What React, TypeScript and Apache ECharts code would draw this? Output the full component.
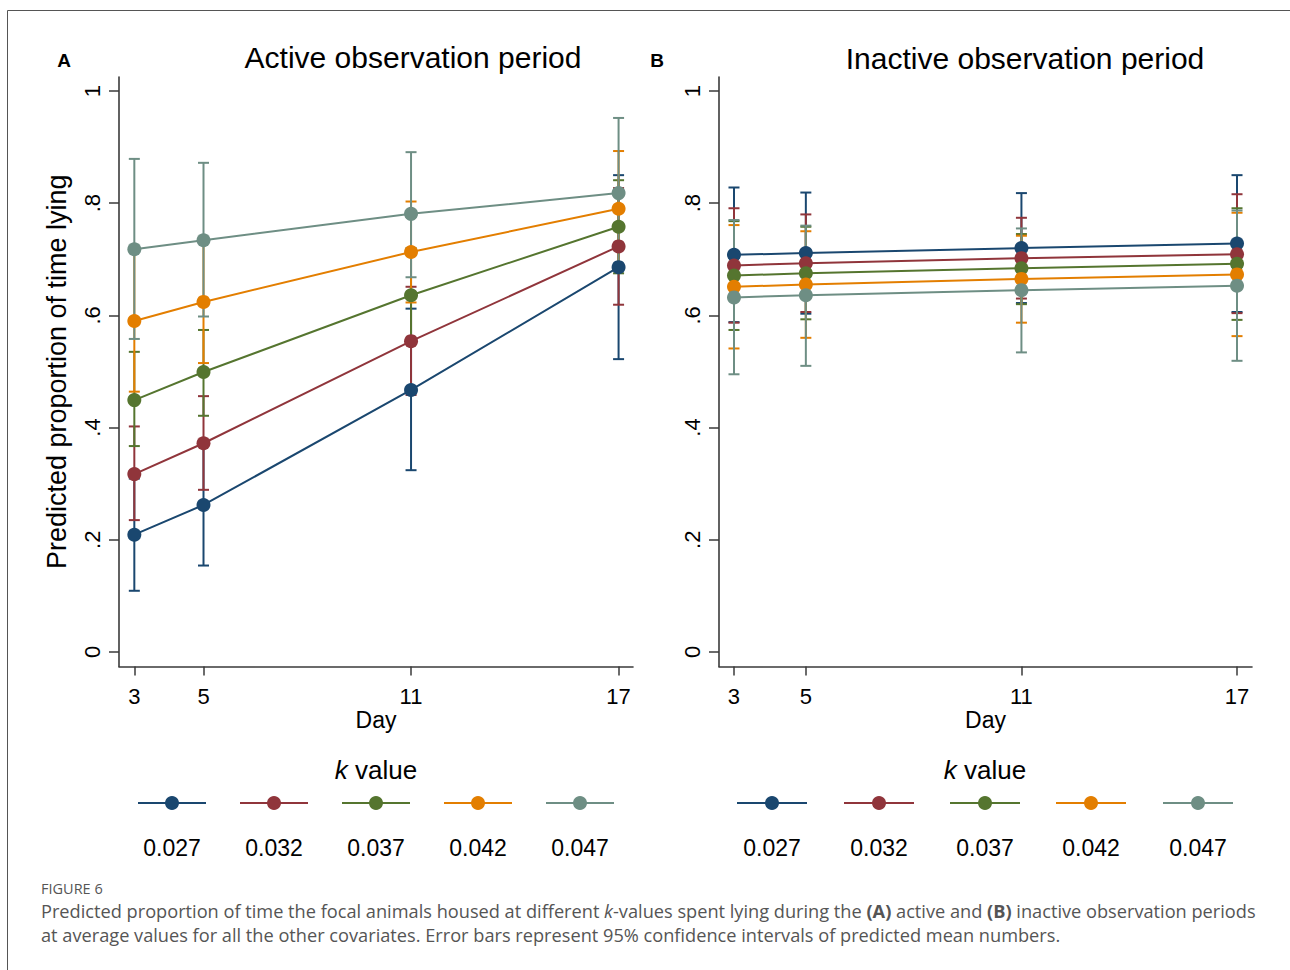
import React, { useEffect, useRef } from "react";
import * as echarts from "echarts";

const days = [3, 5, 11, 17];
const yTicks = [0, 0.2, 0.4, 0.6, 0.8, 1];
const kLabels = ["0.027", "0.032", "0.037", "0.042", "0.047"];
const colors = ["#1a476f", "#90353b", "#55752f", "#e37e00", "#6e8e84"];

// Panel A: active observation period
const activeMean = [
  [0.209, 0.262, 0.467, 0.686],
  [0.317, 0.372, 0.554, 0.723],
  [0.449, 0.499, 0.636, 0.758],
  [0.59, 0.624, 0.713, 0.79],
  [0.718, 0.734, 0.781, 0.818],
];
const activeLow = [
  [0.109, 0.154, 0.324, 0.522],
  [0.235, 0.289, 0.458, 0.619],
  [0.367, 0.421, 0.552, 0.675],
  [0.464, 0.515, 0.623, 0.687],
  [0.558, 0.598, 0.668, 0.684],
];
const activeHigh = [
  [0.309, 0.37, 0.612, 0.85],
  [0.402, 0.456, 0.651, 0.827],
  [0.535, 0.574, 0.72, 0.841],
  [0.716, 0.733, 0.803, 0.893],
  [0.879, 0.872, 0.891, 0.952],
];

// Panel B: inactive observation period
const inactiveMean = [
  [0.708, 0.711, 0.72, 0.728],
  [0.689, 0.693, 0.702, 0.709],
  [0.671, 0.675, 0.684, 0.692],
  [0.651, 0.655, 0.665, 0.673],
  [0.632, 0.636, 0.645, 0.653],
];
const inactiveLow = [
  [0.588, 0.603, 0.622, 0.606],
  [0.587, 0.606, 0.63, 0.604],
  [0.574, 0.593, 0.62, 0.592],
  [0.541, 0.56, 0.587, 0.563],
  [0.495, 0.51, 0.534, 0.519],
];
const inactiveHigh = [
  [0.828, 0.819, 0.818, 0.85],
  [0.791, 0.78, 0.774, 0.816],
  [0.768, 0.758, 0.745, 0.791],
  [0.761, 0.75, 0.742, 0.783],
  [0.77, 0.76, 0.755, 0.787],
];

const FONT = "'Liberation Sans', Arial, sans-serif";
const AXIS_COLOR = "#3a3a3a";

function makeX(gi: number, min: number, max: number) {
  return {
    type: "value",
    gridIndex: gi,
    min,
    max,
    axisLine: { show: true, onZero: false, lineStyle: { color: AXIS_COLOR, width: 1.6 } },
    axisTick: { show: true, length: 9, customValues: days, lineStyle: { color: AXIS_COLOR, width: 1.5 } },
    axisLabel: { customValues: days, fontSize: 22, color: "#000", margin: 19, fontFamily: FONT },
    splitLine: { show: false },
    name: "Day",
    nameLocation: "middle",
    nameGap: 42,
    nameMoveOverlap: false,
    nameTextStyle: { fontSize: 23, color: "#000", fontFamily: FONT },
  };
}

function makeY(gi: number, withName: boolean) {
  return {
    type: "value",
    gridIndex: gi,
    min: -0.026,
    max: 1.025,
    axisLine: { show: true, onZero: false, lineStyle: { color: AXIS_COLOR, width: 1.6 } },
    axisTick: { show: true, length: 10, customValues: yTicks, lineStyle: { color: AXIS_COLOR, width: 1.5 } },
    axisLabel: {
      customValues: yTicks,
      rotate: 90,
      fontSize: 22,
      color: "#000",
      margin: 16,
      fontFamily: FONT,
      formatter: (v: number) => (v === 0 ? "0" : v === 1 ? "1" : String(v).replace(/^0\./, ".")),
    },
    splitLine: { show: false },
    name: withName ? "Predicted proportion of time lying" : "",
    nameLocation: "middle",
    nameRotate: 90,
    nameGap: 49,
    nameMoveOverlap: false,
    nameTextStyle: { fontSize: 27, color: "#000", fontFamily: FONT },
  };
}

function makeSeries(gi: number, mean: number[][], low: number[][], high: number[][]) {
  const out: any[] = [];
  mean.forEach((_, k) => {
    const color = colors[k];
    out.push({
      type: "custom",
      xAxisIndex: gi,
      yAxisIndex: gi,
      z: 2,
      encode: { x: 0, y: [1, 2] },
      data: days.map((d, i) => [d, low[k][i], high[k][i]]),
      renderItem: (params: any, api: any) => {
        const x = api.value(0);
        const pLo = api.coord([x, api.value(1)]);
        const pHi = api.coord([x, api.value(2)]);
        const w = 5.5;
        const style = { stroke: color, lineWidth: 2 };
        return {
          type: "group",
          children: [
            { type: "line", shape: { x1: pLo[0], y1: pLo[1], x2: pHi[0], y2: pHi[1] }, style },
            { type: "line", shape: { x1: pLo[0] - w, y1: pLo[1], x2: pLo[0] + w, y2: pLo[1] }, style },
            { type: "line", shape: { x1: pHi[0] - w, y1: pHi[1], x2: pHi[0] + w, y2: pHi[1] }, style },
          ],
        };
      },
    });
  });
  mean.forEach((m, k) => {
    out.push({
      type: "line",
      name: kLabels[k],
      xAxisIndex: gi,
      yAxisIndex: gi,
      z: 3,
      data: days.map((d, i) => [d, m[i]]),
      symbol: "circle",
      symbolSize: 14,
      showSymbol: true,
      itemStyle: { color: colors[k] },
      lineStyle: { color: colors[k], width: 2 },
    });
  });
  return out;
}

function legendGraphics(centers: number[], half: number, titleX: number) {
  const els: any[] = [];
  els.push({
    type: "text",
    x: titleX,
    y: 770,
    style: {
      text: "{i|k} value",
      rich: { i: { fontStyle: "italic", fontSize: 26, fontFamily: FONT, fill: "#000" } },
      fontSize: 26,
      fontFamily: FONT,
      fill: "#000",
      align: "center",
      verticalAlign: "middle",
    },
  });
  centers.forEach((cx, k) => {
    els.push({
      type: "line",
      shape: { x1: cx - half, y1: 803, x2: cx + half, y2: 803 },
      style: { stroke: colors[k], lineWidth: 2 },
    });
    els.push({
      type: "circle",
      shape: { cx, cy: 803, r: 7 },
      style: { fill: colors[k] },
    });
    els.push({
      type: "text",
      x: cx,
      y: 848,
      style: {
        text: kLabels[k],
        fontSize: 23,
        fontFamily: FONT,
        fill: "#000",
        align: "center",
        verticalAlign: "middle",
      },
    });
  });
  return els;
}

export default function App() {
  const ref = useRef<HTMLDivElement>(null);
  useEffect(() => {
    document.body.style.margin = "0";
    document.body.style.overflow = "hidden";
    if (!ref.current) return;
    const chart = echarts.init(ref.current, undefined, { renderer: "svg" });
    const capFont = "'Open Sans', 'Noto Sans', sans-serif";
    const option: any = {
      animation: false,
      backgroundColor: "#ffffff",
      grid: [
        { left: 119, top: 77, width: 514, height: 589.5, containLabel: false },
        { left: 719, top: 77, width: 533, height: 589.5, containLabel: false },
      ],
      xAxis: [makeX(0, 2.557, 17.417), makeX(1, 2.583, 17.417)],
      yAxis: [makeY(0, true), makeY(1, false)],
      series: [
        ...makeSeries(0, activeMean, activeLow, activeHigh),
        ...makeSeries(1, inactiveMean, inactiveLow, inactiveHigh),
      ],
      graphic: [
        {
          type: "polyline",
          shape: { points: [[7.5, 975], [7.5, 10.5], [1295, 10.5]] },
          style: { stroke: "#555", lineWidth: 1, fill: "none" },
          silent: true,
        },
        {
          type: "text",
          x: 64,
          y: 60,
          style: { text: "A", fontSize: 19, fontWeight: "bold", fontFamily: FONT, fill: "#000", align: "center", verticalAlign: "middle" },
        },
        {
          type: "text",
          x: 413,
          y: 57,
          style: { text: "Active observation period", fontSize: 30, fontFamily: FONT, fill: "#000", align: "center", verticalAlign: "middle" },
        },
        {
          type: "text",
          x: 657,
          y: 60,
          style: { text: "B", fontSize: 19, fontWeight: "bold", fontFamily: FONT, fill: "#000", align: "center", verticalAlign: "middle" },
        },
        {
          type: "text",
          x: 1025,
          y: 58,
          style: { text: "Inactive observation period", fontSize: 30, fontFamily: FONT, fill: "#000", align: "center", verticalAlign: "middle" },
        },
        ...legendGraphics([172, 274, 376, 478, 580], 34, 376),
        ...legendGraphics([772, 879, 985, 1091, 1198], 35, 985),
        {
          type: "text",
          x: 41,
          y: 888,
          style: { text: "FIGURE 6", fontSize: 14.5, fontFamily: capFont, fill: "#555", verticalAlign: "middle" },
        },
        {
          type: "text",
          x: 41,
          y: 911,
          style: {
            text: "Predicted proportion of time the focal animals housed at different {i|k}-values spent lying during the {b|(A)} active and {b|(B)} inactive observation periods",
            rich: {
              i: { fontStyle: "italic", fontSize: 18.2, fontFamily: capFont, fill: "#555" },
              b: { fontWeight: "bold", fontSize: 18.2, fontFamily: capFont, fill: "#555" },
            },
            fontSize: 18.2,
            fontFamily: capFont,
            fill: "#555",
            verticalAlign: "middle",
          },
        },
        {
          type: "text",
          x: 41,
          y: 935,
          style: {
            text: "at average values for all the other covariates. Error bars represent 95% confidence intervals of predicted mean numbers.",
            fontSize: 18.2,
            fontFamily: capFont,
            fill: "#555",
            verticalAlign: "middle",
          },
        },
      ],
    };
    chart.setOption(option);
    return () => chart.dispose();
  }, []);
  return <div ref={ref} style={{ width: 1290, height: 970 }} />;
}
